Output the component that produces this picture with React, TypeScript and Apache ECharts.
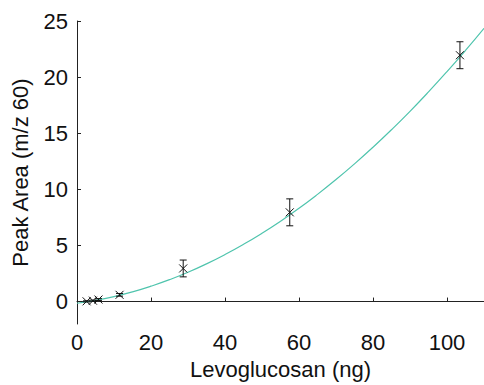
import React, { useEffect, useRef } from "react";
import * as echarts from "echarts";

// Measured calibration points
const levoX = [2.6, 4.3, 5.8, 11.5, 28.7, 57.5, 103.5];
const peakY = [0.02, 0.08, 0.18, 0.6, 2.95, 7.95, 21.95];
const peakErr = [0.05, 0.05, 0.08, 0.12, 0.75, 1.2, 1.2];

// Fitted curve
const fitX = [0, 5, 10, 15, 20, 25, 30, 35, 40, 45, 50, 55, 60, 65, 70, 75, 80, 85, 90, 95, 100, 105, 110];
const fitY = [-0.15, 0.11, 0.44, 0.86, 1.37, 1.95, 2.61, 3.36, 4.19, 5.1, 6.09, 7.16, 8.31, 9.55, 10.87, 12.27, 13.75, 15.31, 16.95, 18.68, 20.49, 22.38, 24.35];

const xTicks = [0, 20, 40, 60, 80, 100];
const yTicks = [0, 5, 10, 15, 20, 25];

const FONT = "'Liberation Sans', Arial, sans-serif";

export default function App() {
  const ref = useRef<HTMLDivElement>(null);
  useEffect(() => {
    if (!ref.current) return;
    const chart = echarts.init(ref.current, undefined, { renderer: "svg" });
    const pts = levoX.map((x, i) => [x, peakY[i], peakErr[i]]);
    const fit = fitX.map((x, i) => [x, fitY[i]]);
    const axisCommon = {
      axisLine: { show: true, lineStyle: { color: "#222", width: 1 } },
      axisTick: { show: true, inside: true, length: 4, lineStyle: { color: "#222" } },
      splitLine: { show: false },
      nameTextStyle: { fontFamily: FONT, fontSize: 22, color: "#111" },
    };
    chart.setOption({
      animation: false,
      grid: { left: 77, right: 0, top: 21, bottom: 59, containLabel: false },
      xAxis: {
        type: "value",
        min: 0,
        max: 110,
        name: "Levoglucosan (ng)",
        nameLocation: "middle",
        nameGap: 34,
        ...axisCommon,
        axisTick: { ...axisCommon.axisTick, customValues: xTicks },
        axisLabel: {
          customValues: xTicks,
          fontFamily: FONT,
          fontSize: 22,
          color: "#111",
          margin: 7,
        },
      },
      yAxis: {
        type: "value",
        min: -2,
        max: 25,
        name: "Peak Area (m/z 60)",
        nameLocation: "middle",
        nameGap: 46,
        ...axisCommon,
        axisTick: { ...axisCommon.axisTick, customValues: yTicks },
        axisLabel: {
          customValues: yTicks,
          fontFamily: FONT,
          fontSize: 22,
          color: "#111",
          margin: 9,
        },
      },
      series: [
        {
          type: "line",
          data: fit,
          smooth: true,
          showSymbol: false,
          symbol: "none",
          lineStyle: { color: "#4fc4ad", width: 1.2 },
          z: 2,
        },
        {
          type: "custom",
          data: pts,
          z: 3,
          renderItem: (params: any, api: any) => {
            const x = api.value(0);
            const y = api.value(1);
            const e = api.value(2);
            const c = api.coord([x, y]);
            const top = api.coord([x, y + e]);
            const bot = api.coord([x, y - e]);
            const s = 4;
            const cap = 3.5;
            const stroke = { stroke: "#111", lineWidth: 1 };
            return {
              type: "group",
              children: [
                { type: "line", shape: { x1: top[0], y1: top[1], x2: bot[0], y2: bot[1] }, style: stroke },
                { type: "line", shape: { x1: top[0] - cap, y1: top[1], x2: top[0] + cap, y2: top[1] }, style: stroke },
                { type: "line", shape: { x1: bot[0] - cap, y1: bot[1], x2: bot[0] + cap, y2: bot[1] }, style: stroke },
                { type: "line", shape: { x1: c[0] - s, y1: c[1] - s, x2: c[0] + s, y2: c[1] + s }, style: stroke },
                { type: "line", shape: { x1: c[0] - s, y1: c[1] + s, x2: c[0] + s, y2: c[1] - s }, style: stroke },
              ],
            };
          },
        },
      ],
    });
    return () => chart.dispose();
  }, []);
  return <div ref={ref} style={{ width: 484, height: 385, position: "absolute", left: 0, top: 0 }} />;
}
